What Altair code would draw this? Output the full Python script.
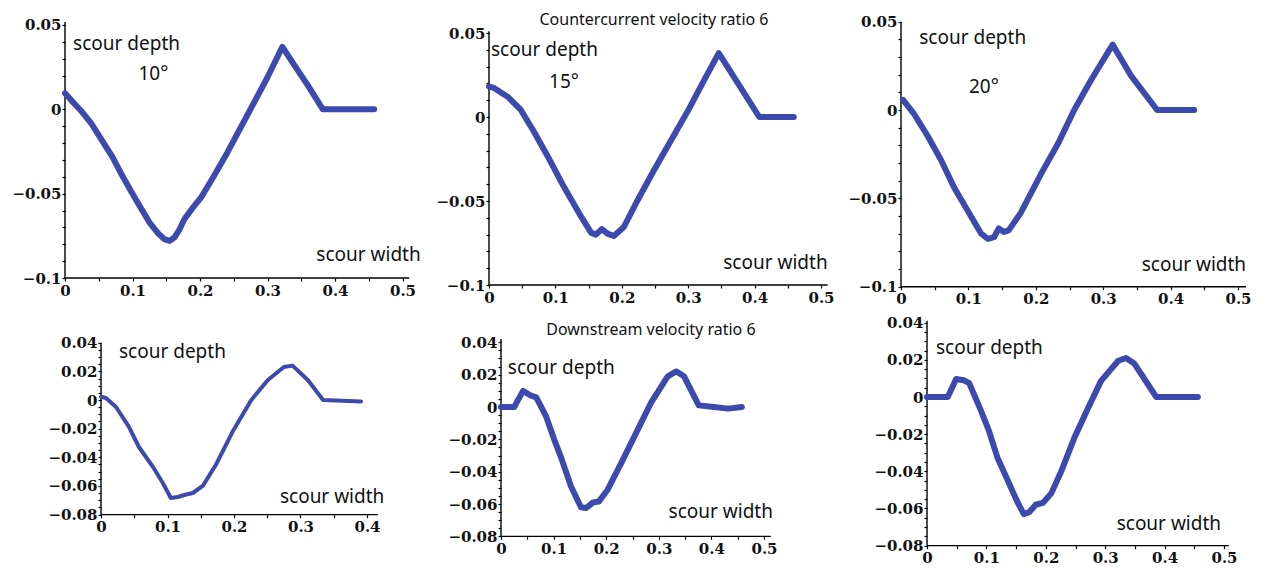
import altair as alt
import pandas as pd

BLUE = "#3c4aae"

# ---------------- data ----------------
p1_x = [0, 0.01, 0.024, 0.04, 0.054, 0.07, 0.083, 0.1, 0.113, 0.125, 0.138, 0.147, 0.155, 0.162,
        0.17, 0.177, 0.19, 0.202, 0.22, 0.24, 0.26, 0.28, 0.30, 0.322, 0.34, 0.36, 0.382, 0.42, 0.458]
p1_y = [0.0095, 0.005, -0.001, -0.009, -0.018, -0.028, -0.038, -0.050, -0.059, -0.067, -0.0735, -0.077,
        -0.078, -0.076, -0.071, -0.065, -0.058, -0.052, -0.040, -0.026, -0.011, 0.004, 0.019, 0.037,
        0.026, 0.014, 0.0, 0.0, 0.0]

p2_x = [0, 0.0075, 0.0286, 0.048, 0.068, 0.089, 0.113, 0.139, 0.154, 0.161, 0.170, 0.179, 0.188, 0.203,
        0.224, 0.248, 0.274, 0.300, 0.324, 0.346, 0.375, 0.407, 0.459]
p2_y = [0.0181, 0.0173, 0.0119, 0.0042, -0.0089, -0.0238, -0.0417, -0.0595, -0.069, -0.070, -0.0667,
        -0.0696, -0.0708, -0.0655, -0.0494, -0.032, -0.014, 0.004, 0.022, 0.038, 0.020, 0.0, 0.0]

p3_x = [0.003, 0.019, 0.040, 0.059, 0.079, 0.099, 0.119, 0.129, 0.138, 0.145, 0.153, 0.160, 0.178,
        0.208, 0.233, 0.257, 0.282, 0.314, 0.342, 0.38, 0.435]
p3_y = [0.0057, -0.002, -0.015, -0.028, -0.044, -0.057, -0.070, -0.073, -0.072, -0.067, -0.069, -0.068,
        -0.058, -0.036, -0.019, 0.0, 0.017, 0.037, 0.019, 0.0, 0.0]

p4_x = [0, 0.0075, 0.0226, 0.042, 0.057, 0.078, 0.093, 0.105, 0.116, 0.125, 0.138, 0.153, 0.173, 0.198,
        0.226, 0.251, 0.275, 0.288, 0.311, 0.334, 0.391]
p4_y = [0.0023, 0.0014, -0.0049, -0.0188, -0.0328, -0.0466, -0.0579, -0.0684, -0.0677, -0.0663, -0.0649,
        -0.0600, -0.045, -0.022, 0.0, 0.014, 0.023, 0.024, 0.014, 0.0, -0.001]

p5_x = [0.0, 0.025, 0.042, 0.057, 0.067, 0.086, 0.101, 0.114, 0.133, 0.152, 0.162, 0.175, 0.186, 0.203,
        0.228, 0.260, 0.285, 0.317, 0.333, 0.348, 0.376, 0.405, 0.432, 0.458]
p5_y = [0.0, 0.0, 0.010, 0.007, 0.006, -0.006, -0.020, -0.031, -0.049, -0.062, -0.0625, -0.059, -0.0585,
        -0.051, -0.035, -0.014, 0.0025, 0.019, 0.022, 0.019, 0.001, 0.0, -0.001, 0.0]

p6_x = [0.0, 0.035, 0.049, 0.062, 0.071, 0.091, 0.104, 0.119, 0.136, 0.153, 0.163, 0.172, 0.183, 0.195,
        0.209, 0.226, 0.248, 0.271, 0.293, 0.322, 0.335, 0.349, 0.386, 0.456]
p6_y = [0.0, 0.0, 0.0097, 0.009, 0.0075, -0.0075, -0.018, -0.033, -0.045, -0.057, -0.063, -0.062, -0.058,
        -0.057, -0.052, -0.040, -0.022, -0.006, 0.0087, 0.0195, 0.021, 0.018, 0.0, 0.0]

# tick labels
top_x_ticks = [0, 0.1, 0.2, 0.3, 0.4, 0.5]
top_y_ticks = [-0.1, -0.05, 0, 0.05]
bot_x_ticks_a = [0, 0.1, 0.2, 0.3, 0.4]
bot_x_ticks_b = [0, 0.1, 0.2, 0.3, 0.4, 0.5]
bot_y_ticks = [-0.08, -0.06, -0.04, -0.02, 0, 0.02, 0.04]

# annotation texts (x, y in data units, text, alignment, font size)
depth_label = "scour depth"
width_label = "scour width"
angles = ["10°", "15°", "20°"]
title_top = "Countercurrent velocity ratio 6"
title_bot = "Downstream velocity ratio 6"

p1_notes = [(0.012, 0.039, depth_label, "left", 19), (0.131, 0.021, angles[0], "center", 19),
            (0.527, -0.0865, width_label, "right", 19)]
p2_notes = [(0.003, 0.040, depth_label, "left", 19), (0.113, 0.021, angles[1], "center", 19),
            (0.510, -0.087, width_label, "right", 19), (0.2485, 0.0577, title_top, "center", 16)]
p3_notes = [(0.027, 0.041, depth_label, "left", 19), (0.123, 0.013, angles[2], "center", 19),
            (0.512, -0.088, width_label, "right", 19)]
p4_notes = [(0.027, 0.0335, depth_label, "left", 19), (0.426, -0.068, width_label, "right", 19)]
p5_notes = [(0.013, 0.024, depth_label, "left", 19), (0.517, -0.065, width_label, "right", 19),
            (0.285, 0.0476, title_bot, "center", 16)]
p6_notes = [(0.015, 0.0265, depth_label, "left", 19), (0.495, -0.0686, width_label, "right", 19)]

# ---------------- layout (pixels) ----------------
COL_L = [64, 488, 900]
COL_W = [364, 352, 345]
COL_SP = 60
ROW_T = [21, 322]
ROW_H = [271, 225]
ROW_SP = 30


def minor(lo, hi, step):
    n = int(round((hi - lo) / step))
    return [round(lo + i * step, 4) for i in range(n + 1)]


def panel(xs, ys, notes, col, row, x0px, kx, xend, y0px, ky, ymin, ytop,
          xticks, yticks, xstep, ystep, sw=6):
    cl, cw = COL_L[col], COL_W[col]
    rt, rh = ROW_T[row], ROW_H[row]
    xdom = [(cl - x0px) / kx, (cl + cw - x0px) / kx]
    ydom = [(y0px - (rt + rh)) / ky, (y0px - rt) / ky]
    yoff = -(x0px - cl)
    xoff = -((rt + rh) - (y0px - ymin * ky))

    df = pd.DataFrame({"x": xs, "y": ys})
    xmaj = ",".join(str(v) for v in xticks)
    ymaj = ",".join(str(v) for v in yticks)
    axis_common = dict(
        grid=False, domain=False, tickColor="black", tickWidth=1.2,
        tickSize=3, labelFont="DejaVu Serif", labelFontWeight="bold", labelFontSize=15,
        labelColor="#111111", labelOverlap=False, format="~g", labelFlush=False, title=None,
    )
    xaxis = alt.Axis(
        values=minor(0, xticks[-1], xstep), labelPadding=2, offset=xoff,
        labelExpr=f"indexof([{xmaj}], round(datum.value*1000)/1000) >= 0 ? datum.label : ''",
        **axis_common,
    )
    yaxis = alt.Axis(
        values=minor(yticks[0], yticks[-1], ystep), labelPadding=1, offset=yoff,
        labelExpr=f"indexof([{ymaj}], round(datum.value*1000)/1000) >= 0 ? datum.label : ''",
        **axis_common,
    )
    xenc = alt.X("x:Q", scale=alt.Scale(domain=xdom, nice=False, zero=False), axis=xaxis)
    yenc = alt.Y("y:Q", scale=alt.Scale(domain=ydom, nice=False, zero=False), axis=yaxis)

    axes_df = pd.DataFrame({"x": [0, 0], "y": [ymin, ymin], "x2": [xend, 0], "y2": [ymin, ytop]})
    axis_lines = alt.Chart(axes_df).mark_rule(color="black", strokeWidth=1.4).encode(
        x=xenc, y=yenc, x2="x2:Q", y2="y2:Q")

    line = alt.Chart(df).mark_line(
        color=BLUE, strokeWidth=sw, strokeCap="round", strokeJoin="round", clip=False
    ).encode(x=xenc, y=yenc)
    layers = [axis_lines, line]
    ndf = pd.DataFrame(notes, columns=["x", "y", "label", "align", "fs"])
    for al in ["left", "center", "right"]:
        sub = ndf[ndf["align"] == al]
        if len(sub) == 0:
            continue
        layers.append(
            alt.Chart(sub).mark_text(
                align=al, baseline="middle", font="Noto Sans", color="#111111"
            ).encode(x=xenc, y=yenc, text="label:N", size=alt.Size("fs:Q", scale=None, legend=None))
        )
    return alt.layer(*layers).properties(width=cw, height=rh)


c1 = panel(p1_x, p1_y, p1_notes, 0, 0, 64, 675, 0.51, 109.3, 1687, -0.1, 0.0518,
           top_x_ticks, top_y_ticks, 0.05, 0.01)
c2 = panel(p2_x, p2_y, p2_notes, 1, 0, 488, 664, 0.51, 117, 1680, -0.1, 0.051,
           top_x_ticks, top_y_ticks, 0.05, 0.01)
c3 = panel(p3_x, p3_y, p3_notes, 2, 0, 900, 674, 0.512, 110, 1767, -0.1, 0.05,
           top_x_ticks, top_y_ticks, 0.05, 0.01)
c4 = panel(p4_x, p4_y, p4_notes, 0, 1, 100, 665, 0.4165, 400, 1433, -0.08, 0.04,
           bot_x_ticks_a, bot_y_ticks, 0.05, 0.005, sw=4)
c5 = panel(p5_x, p5_y, p5_notes, 1, 1, 500, 526, 0.513, 407, 1617, -0.08, 0.042,
           bot_x_ticks_b, bot_y_ticks, 0.05, 0.005)
c6 = panel(p6_x, p6_y, p6_notes, 2, 1, 926, 594, 0.508, 397, 1858, -0.08, 0.041,
           bot_x_ticks_b, bot_y_ticks, 0.05, 0.005)

chart = alt.concat(c1, c2, c3, c4, c5, c6, columns=3, align="each", bounds="flush",
                   spacing=alt.RowColnumber(row=ROW_SP, column=COL_SP)).properties(
    padding={"left": 3, "top": 4, "right": 0, "bottom": 0}, background="white"
).configure_view(stroke=None, strokeWidth=0)

chart.save("out.html", embed_options={"renderer": "svg", "actions": False})
